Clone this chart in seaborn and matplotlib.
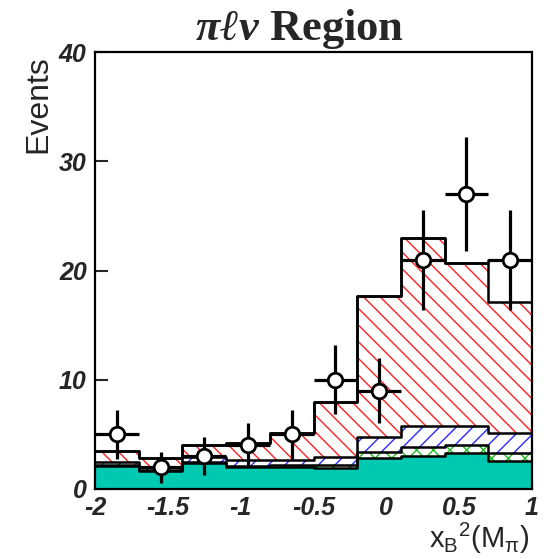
import numpy as np
import matplotlib
matplotlib.use("Agg")
import matplotlib.pyplot as plt
import seaborn as sns

# Binning in x_B^2(M_pi)
bin_edges = [-2.0, -1.7, -1.4, -1.1, -0.8, -0.5, -0.2, 0.1, 0.4, 0.7, 1.0]
bin_centers = [-1.85, -1.55, -1.25, -0.95, -0.65, -0.35, -0.05, 0.25, 0.55, 0.85]

# Stacked MC components (per-bin yields, bottom to top)
comp_teal = [2.10, 1.65, 2.40, 2.05, 2.05, 1.90, 2.80, 3.05, 3.25, 2.56]
comp_green = [0.10, 0.10, 0.10, 0.10, 0.15, 0.30, 0.60, 0.82, 0.75, 0.74]
comp_blue = [0.25, 0.25, 0.45, 0.50, 0.45, 0.70, 1.40, 1.93, 1.80, 1.80]
comp_red = [1.00, 0.80, 1.05, 1.60, 2.45, 5.05, 12.90, 17.15, 14.85, 12.00]
comp_other = [0.0, 0.0, 0.0, 0.0, 0.0, 0.0, 0.0, 0.0, 0.0, 3.85]

# Data points with Poisson errors
data_counts = [5, 2, 3, 4, 5, 10, 9, 21, 27, 21]
data_errors = [2.24, 1.41, 1.73, 2.00, 2.24, 3.16, 3.00, 4.58, 5.20, 4.58]
bin_half_width = 0.15

x_ticks = [-2, -1.5, -1, -0.5, 0, 0.5, 1]
x_tick_labels = ["-2", "-1.5", "-1", "-0.5", "0", "0.5", "1"]
y_ticks = [0, 10, 20, 30, 40]

sns.set_style("ticks")
plt.rcParams["font.family"] = ["Liberation Sans", "DejaVu Sans"]
plt.rcParams["hatch.linewidth"] = 1.0
plt.rcParams["mathtext.fontset"] = "custom"
plt.rcParams["mathtext.it"] = "Liberation Serif:italic:bold"
plt.rcParams["mathtext.rm"] = "Liberation Serif:bold"

fig = plt.figure(figsize=(5.5, 5.59), dpi=100)
ax = fig.add_axes([95 / 550, 1 - 489 / 559, 437 / 550, 437 / 559])

# component styles: (yields, face colour, hatch colour, hatch)
layers = [
    (comp_teal, "#00c9b1", "#00c9b1", None),
    (comp_green, "white", "#22bb22", "xx"),
    (comp_blue, "white", "#2a2aff", "//"),
    (comp_red, "white", "#ff2020", "\\\\"),
    (comp_other, "white", "white", None),
]
tops = []
running = np.zeros(len(bin_centers))
for comp, *_ in layers:
    running = running + np.asarray(comp)
    tops.append(running.copy())

# fills: top layer first, each lower cumulative layer painted over it
for (comp, face, hcol, hatch), top in reversed(list(zip(layers, tops))):
    sns.histplot(x=bin_centers, weights=top, bins=bin_edges, element="step",
                 fill=True, facecolor=face, edgecolor=hcol, hatch=hatch,
                 linewidth=0, alpha=1, ax=ax)

# black step outlines of every stack boundary
for top in tops:
    sns.histplot(x=bin_centers, weights=top, bins=bin_edges, element="step",
                 fill=False, color="black", linewidth=1.8, ax=ax)

# data
ax.errorbar(bin_centers, data_counts, xerr=bin_half_width, yerr=data_errors,
            fmt="none", ecolor="black", elinewidth=2.3, capsize=0, zorder=5)
sns.scatterplot(x=bin_centers, y=data_counts, marker="o", s=110,
                facecolor="white", edgecolor="black", linewidth=2.0,
                zorder=6, ax=ax)

ax.set_xlim(-2, 1)
ax.set_ylim(0, 40)
ax.set_xticks(x_ticks)
ax.set_xticklabels(x_tick_labels)
ax.set_yticks(y_ticks)
ax.set_xlabel("")
ax.set_ylabel("")
for lab in ax.get_xticklabels() + ax.get_yticklabels():
    lab.set_fontsize(18)
    lab.set_fontweight("bold")
    lab.set_fontstyle("italic")
ax.tick_params(axis="x", direction="in", length=6, width=1.5, pad=5)
ax.tick_params(axis="y", direction="in", length=9, width=1.5, pad=6)
for sp in ax.spines.values():
    sp.set_visible(True)
    sp.set_linewidth(1.6)
    sp.set_color("black")

fig.text(38 / 550, 1 - 55 / 559, "Events", rotation=90, ha="center", va="top",
         fontsize=23)
fig.text(530 / 550, 1 - 548 / 559, r"$\mathregular{x_B{}^2(M_\pi)}$",
         ha="right", va="baseline", fontsize=21)
fig.text(300 / 550, 1 - 40 / 559, r"$\pi\ell\nu$ Region", ha="center",
         va="baseline", fontsize=32, fontweight="bold",
         family=["Liberation Serif", "DejaVu Serif"])

fig.savefig("out.png", dpi=100)
